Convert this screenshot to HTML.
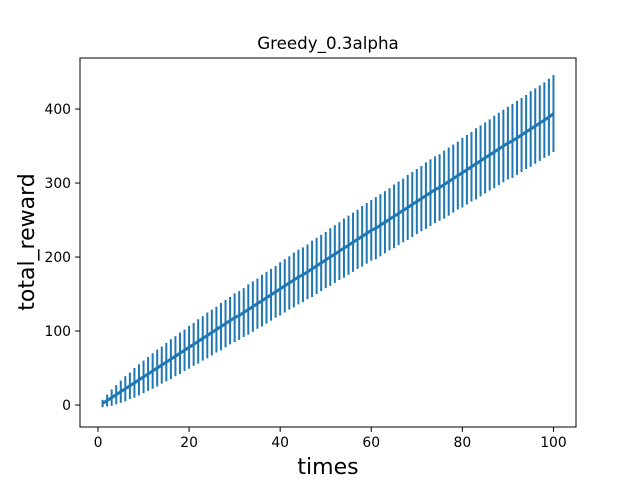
<!DOCTYPE html>
<html><head><meta charset="utf-8"><style>body{margin:0;background:#fff}svg{display:block}text{font-family:"DejaVu Sans","Liberation Sans",sans-serif}</style></head>
<body>
<svg id="c" width="640" height="480"></svg>
<script>
const times=[];for(let i=1;i<=100;i++)times.push(i);
const meanReward=[2,6,10,14,18,22,26,30,34,38,42,46,50,54,58,62,66,70,74,78,82,86,90,94,98,102,106,110,114,118,121,125,129,133,137,141,145,149,153,157,161,165,169,173,176,180,184,188,192,196,200,204,208,212,216,220,224,228,232,236,239,243,247,251,255,259,263,267,271,275,279,283,287,291,294,298,302,306,310,314,318,322,326,330,334,338,342,346,350,354,357,361,365,369,373,377,381,385,389,394];
const errReward=[5,8,11,13,15,17,18,20,21,22,23,24,25,25,26,27,27,28,28,29,29,30,30,31,31,31,32,32,32,33,33,33,34,34,34,35,35,35,35,36,36,36,37,37,37,37,38,38,38,38,39,39,39,40,40,40,40,41,41,41,42,42,42,42,43,43,43,44,44,44,44,45,45,45,45,46,46,46,46,47,47,47,48,48,48,48,49,49,49,49,50,50,50,50,51,51,51,51,52,52];
const xTicks=[0,20,40,60,80,100];
const yTicks=[0,100,200,300,400];
const L=80,R=576,T=58,B=427;
const xMin=-3.95,xMax=104.95,yMin=-29.7,yMax=469;
const X=v=>L+(v-xMin)/(xMax-xMin)*(R-L);
const Y=v=>B-(v-yMin)/(yMax-yMin)*(B-T);
const svg=document.getElementById('c');const NS='http://www.w3.org/2000/svg';
function el(t,a,p){const e=document.createElementNS(NS,t);for(const k in a)e.setAttribute(k,a[k]);(p||svg).appendChild(e);return e;}
const C='#1f77b4';
const n=Math.min(times.length,meanReward.length,errReward.length);
for(let i=0;i<n;i++){
 const b=el('line',{x1:X(times[i]),x2:X(times[i]),y1:Y(meanReward[i]-errReward[i]),y2:Y(meanReward[i]+errReward[i]),stroke:C,'stroke-width':2});
 
 
}
let d='';for(let i=0;i<n;i++)d+=(i?'L':'M')+X(times[i]).toFixed(2)+' '+Y(meanReward[i]).toFixed(2);
const ln=el('path',{d:d,fill:'none',stroke:C,'stroke-width':3,'stroke-linejoin':'round'});


const fr=el('rect',{x:L,y:T,width:R-L,height:B-T,fill:'none',stroke:'#000','stroke-width':1});


xTicks.forEach(v=>{el('line',{x1:X(v),x2:X(v),y1:B,y2:B+4.9,stroke:'#000'});
 const t=el('text',{x:X(v),y:B+20,'font-size':13.9,'text-anchor':'middle'});t.textContent=v;
 
 });
yTicks.forEach(v=>{el('line',{x1:L-4.9,x2:L,y1:Y(v),y2:Y(v),stroke:'#000'});
 const t=el('text',{x:L-9,y:Y(v)+5,'font-size':13.9,'text-anchor':'end'});t.textContent=v;
 
 });
</script>
<svg style="position:absolute;left:0;top:0" width="640" height="480">
<text x="328" y="49" font-size="16.7" text-anchor="middle" style="font-family:'DejaVu Sans',sans-serif">Greedy_0.3alpha</text>
<text x="328" y="474" font-size="22" text-anchor="middle" style="font-family:'DejaVu Sans',sans-serif">times</text>
<text x="34" y="242" font-size="22" text-anchor="middle" transform="rotate(-90 34 242)" style="font-family:'DejaVu Sans',sans-serif">total_reward</text>
</svg>
</body></html>
